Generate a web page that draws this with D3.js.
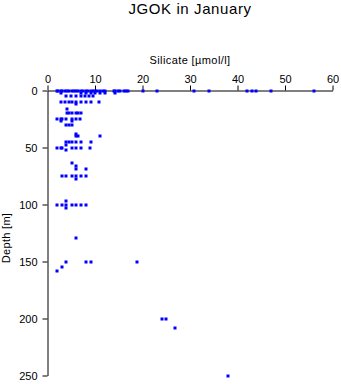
<!DOCTYPE html>
<html><head><meta charset="utf-8">
<script src="https://cdn.jsdelivr.net/npm/d3@7"></script>
<style>body{margin:0;background:#fff}svg{display:block}text{font-family:"Liberation Sans",Arial,sans-serif}</style>
</head><body><div id="c"></div>
<script>
const title = "JGOK in January";
const xTitle = "Silicate [µmol/l]";
const yTitle = "Depth [m]";
const xTicks = [0,10,20,30,40,50,60];
const yTicks = [0,50,100,150,200,250];
const silicate = [
 1.9,2.3,2.8,3.0,3.7,4.0,4.6,5.1,5.6,6.0,6.5,7.0,7.5,8.0,8.6,9.1,9.5,10.0,10.5,11.1,11.7,12.1,13.9,14.2,14.9,15.3,16.0,16.5,17.0,20.0,23.0,30.9,33.9,41.9,43.0,43.9,47.0,56.0,
 2.8,7.0,8.0,9.1,10.0,11.1,12.1,14.2,
 3.8,4.9,5.9,7.0,7.8,8.7,9.6,
 2.8,3.7,4.6,5.1,6.1,7.0,8.0,9.1,10.9,
 6.0,4.0,
 4.0,4.6,5.1,6.0,6.5,7.0,
 1.9,2.8,3.1,3.9,5.1,6.0,6.8,
 2.8,5.1,
 3.9,4.6,5.1,
 6.0,6.0,6.5,11.0,
 3.9,4.6,5.1,6.0,7.0,9.1,
 1.9,2.8,3.0,3.9,3.9,5.1,6.0,7.0,8.9,
 5.1,6.0,6.0,8.0,
 3.0,3.9,5.1,6.0,7.0,8.0,6.0,
 2.1,3.0,3.9,3.9,3.9,5.1,6.0,7.0,8.0,
 6.0,
 3.9,8.0,9.1,18.9,3.0,2.1,
 24.0,25.0,26.9,37.9
];
const depth = [
 0,0,0,0,0,0,0,0,0,0,0,0,0,0,0,0,0,0,0,0,0,0,0,0,0,0,0,0,0,0,0,0,0,0,0,0,0,0,
 2,2,2,2,2,2,2,2,
 5,5,5,5,5,5,5,
 10,10,10,10,10,10,10,10,10,
 12,16,
 20,20,20,20,20,20,
 25,25,25,25,25,25,25,
 27,27,
 30,30,30,
 38,40,40,40,
 45,45,45,45,45,45,
 50,50,50,48,52,50,50,50,50,
 64,66,69,69,
 75,75,75,75,75,75,78,
 100,100,97,100,103,100,100,100,100,
 129,
 150,150,150,150,155,158,
 200,200,208,250
];
const W=341,H=384;
const svg=d3.select("#c").append("svg").attr("width",W).attr("height",H);
const x=d3.scaleLinear().domain([0,60]).range([47.5,332.5]);
const y=d3.scaleLinear().domain([0,250]).range([90.5,375.5]);
const xa=svg.append("g").attr("transform","translate(0,90.5)")
 .call(d3.axisTop(x).tickValues(xTicks).tickSize(5).tickSizeOuter(0).tickPadding(3));
const ya=svg.append("g").attr("transform","translate(47.5,0)")
 .call(d3.axisLeft(y).tickValues(yTicks).tickSize(5).tickSizeOuter(0).tickPadding(5));
[xa,ya].forEach(a=>{a.selectAll("text").attr("font-size",11).attr("fill","#000").style("font-family","'Liberation Sans',Arial,sans-serif");a.selectAll("path,line").attr("stroke","#000");});
svg.append("g").selectAll("rect").data(d3.range(silicate.length)).join("rect")
 .attr("x",i=>Math.round(x(silicate[i]))-1.5).attr("y",i=>Math.round(y(depth[i]))-1.5)
 .attr("width",3).attr("height",3).attr("fill","#0000ff");
svg.append("text").attr("x",190).attr("y",14).attr("text-anchor","middle").attr("font-size",15).attr("letter-spacing",0.6).text(title);
svg.append("text").attr("x",190).attr("y",64).attr("text-anchor","middle").attr("font-size",11).attr("letter-spacing",0.4).text(xTitle);
svg.append("text").attr("transform","translate(10,238) rotate(-90)").attr("text-anchor","middle").attr("font-size",11).attr("letter-spacing",0.3).text(yTitle);
</script></body></html>
